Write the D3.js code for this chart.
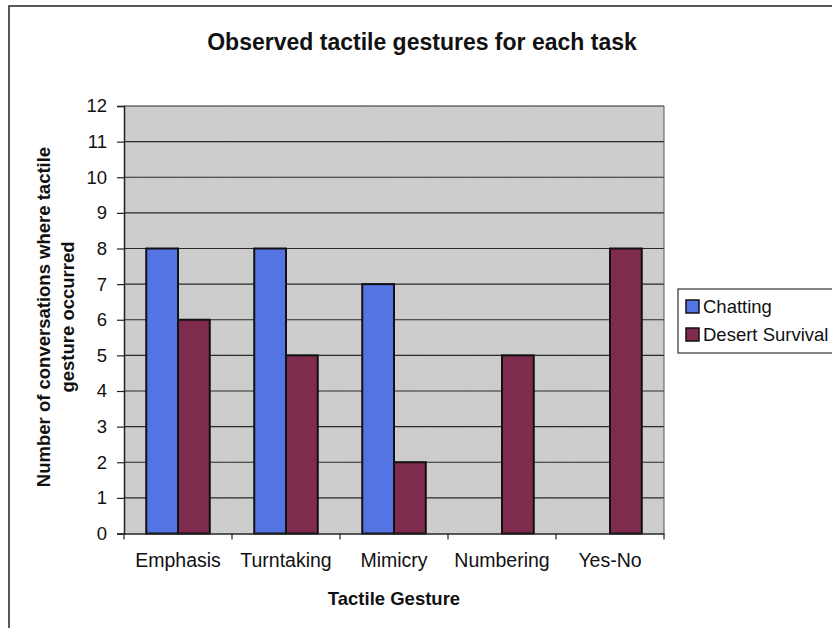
<!DOCTYPE html>
<html><head><meta charset="utf-8">
<script src="https://cdn.jsdelivr.net/npm/d3@7"></script>
<style>body{margin:0;background:#fff}svg{display:block}</style>
</head><body>
<svg id="c" width="832" height="628"></svg>
<script>
const categories = ["Emphasis","Turntaking","Mimicry","Numbering","Yes-No"];
const seriesNames = ["Chatting","Desert Survival"];
const chatting = [8, 8, 7, 0, 0];
const desertSurvival = [6, 5, 2, 5, 8];
const yTicks = [0,1,2,3,4,5,6,7,8,9,10,11,12];
const colors = ["#5474e4","#7f2b4d"];

const svg = d3.select("#c");
const font = "'Liberation Sans', Arial, sans-serif";
const m = {left:124, right:664, top:106, bottom:533.5};

// outer frame
svg.append("rect").attr("x",9).attr("y",6).attr("width",900).attr("height",700)
  .attr("fill","#fff").attr("stroke","#222").attr("stroke-width",1.5);

const x0 = d3.scaleBand().domain(categories).range([m.left,m.right]).paddingInner(0).paddingOuter(0);
const x1 = d3.scaleBand().domain(seriesNames).range([0,x0.bandwidth()]).paddingInner(0).paddingOuter(0.7);
const y = d3.scaleLinear().domain([0,12]).range([m.bottom,m.top]);

// plot area with speckle texture
const defs = svg.append("defs");
const f = defs.append("filter").attr("id","noise").attr("x",0).attr("y",0).attr("width","100%").attr("height","100%");
f.append("feTurbulence").attr("type","fractalNoise").attr("baseFrequency",0.9).attr("numOctaves",2).attr("seed",3).attr("result","t");
f.append("feColorMatrix").attr("in","t").attr("type","matrix")
  .attr("values","0 0 0 0 0.6  0 0 0 0 0.6  0 0 0 0 0.6  0 0 0 1.6 -0.55").attr("result","n");
f.append("feComposite").attr("in","n").attr("in2","SourceGraphic").attr("operator","in").attr("result","n2");
const fm = f.append("feMerge");
fm.append("feMergeNode").attr("in","SourceGraphic");
fm.append("feMergeNode").attr("in","n2");

svg.append("rect").attr("x",m.left).attr("y",m.top).attr("width",m.right-m.left).attr("height",m.bottom-m.top)
  .attr("fill","#cdcdcd").attr("filter","url(#noise)");

// gridlines
svg.append("g").selectAll("line").data(yTicks.filter(d=>d>0)).join("line")
  .attr("x1",m.left).attr("x2",m.right).attr("y1",d=>y(d)).attr("y2",d=>y(d))
  .attr("stroke","#2a2a2a").attr("stroke-width",1.2);
svg.append("line").attr("x1",m.right).attr("x2",m.right).attr("y1",m.top).attr("y2",m.bottom)
  .attr("stroke","#555").attr("stroke-width",1);

// bars
const data = categories.map((c,i)=>({c, vals:[chatting[i], desertSurvival[i]]}));
const g = svg.append("g").selectAll("g").data(data).join("g")
  .attr("transform",d=>`translate(${x0(d.c)},0)`);
g.selectAll("rect").data(d=>d.vals.map((v,j)=>({v,s:seriesNames[j],j}))).join("rect")
  .filter(d=>d.v>0)
  .attr("x",d=>x1(d.s)).attr("width",x1.bandwidth())
  .attr("y",d=>y(d.v)).attr("height",d=>y(0)-y(d.v))
  .attr("fill",d=>colors[d.j]).attr("stroke","#111").attr("stroke-width",2);

// y axis
const ya = svg.append("g").attr("transform",`translate(${m.left},0)`)
  .call(d3.axisLeft(y).tickValues(yTicks).tickSize(7).tickPadding(10).tickFormat(d3.format("d")));
ya.select(".domain").attr("stroke","#222").attr("stroke-width",1.5);
ya.selectAll(".tick line").attr("stroke","#222").attr("stroke-width",1.2);
ya.selectAll("text").attr("font-family",font).attr("font-size",18.5).attr("fill","#111");

// x axis
const xa = svg.append("g").attr("transform",`translate(0,${m.bottom})`)
  .call(d3.axisBottom(x0).tickSize(0).tickPadding(20));
xa.select(".domain").attr("stroke","#222").attr("stroke-width",1.5);
xa.selectAll("text").attr("font-family",font).attr("font-size",19.5).attr("fill","#111");
svg.append("g").selectAll("line").data(categories.concat(["__end"])).join("line")
  .attr("x1",(d,i)=>m.left+i*x0.step()).attr("x2",(d,i)=>m.left+i*x0.step())
  .attr("y1",m.bottom).attr("y2",m.bottom+6).attr("stroke","#222").attr("stroke-width",1.2);

// title
svg.append("text").attr("x",422).attr("y",50).attr("text-anchor","middle")
  .attr("font-family",font).attr("font-weight","bold").attr("font-size",23).attr("fill","#111")
  .text("Observed tactile gestures for each task");
// x title
svg.append("text").attr("x",394).attr("y",605).attr("text-anchor","middle")
  .attr("font-family",font).attr("font-weight","bold").attr("font-size",18.5).attr("fill","#111")
  .text("Tactile Gesture");
// y title (two lines)
const yt = svg.append("text").attr("transform","translate(50,317) rotate(-90)").attr("text-anchor","middle")
  .attr("font-family",font).attr("font-weight","bold").attr("font-size",18.5).attr("fill","#111");
yt.append("tspan").attr("x",0).attr("dy",0).text("Number of conversations where tactile");
yt.append("tspan").attr("x",0).attr("dy",24).text("gesture occurred");

// legend
svg.append("rect").attr("x",678).attr("y",289).attr("width",200).attr("height",64)
  .attr("fill","#fff").attr("stroke","#333").attr("stroke-width",1.2);
const lg = svg.append("g").selectAll("g").data(seriesNames).join("g")
  .attr("transform",(d,i)=>`translate(686,${300+i*28})`);
lg.append("rect").attr("width",13).attr("height",13).attr("fill",(d,i)=>colors[i])
  .attr("stroke","#111").attr("stroke-width",1.5);
lg.append("text").attr("x",17).attr("y",13).attr("font-family",font).attr("font-size",18.5).attr("fill","#111")
  .text(d=>d);
</script>
</body></html>
